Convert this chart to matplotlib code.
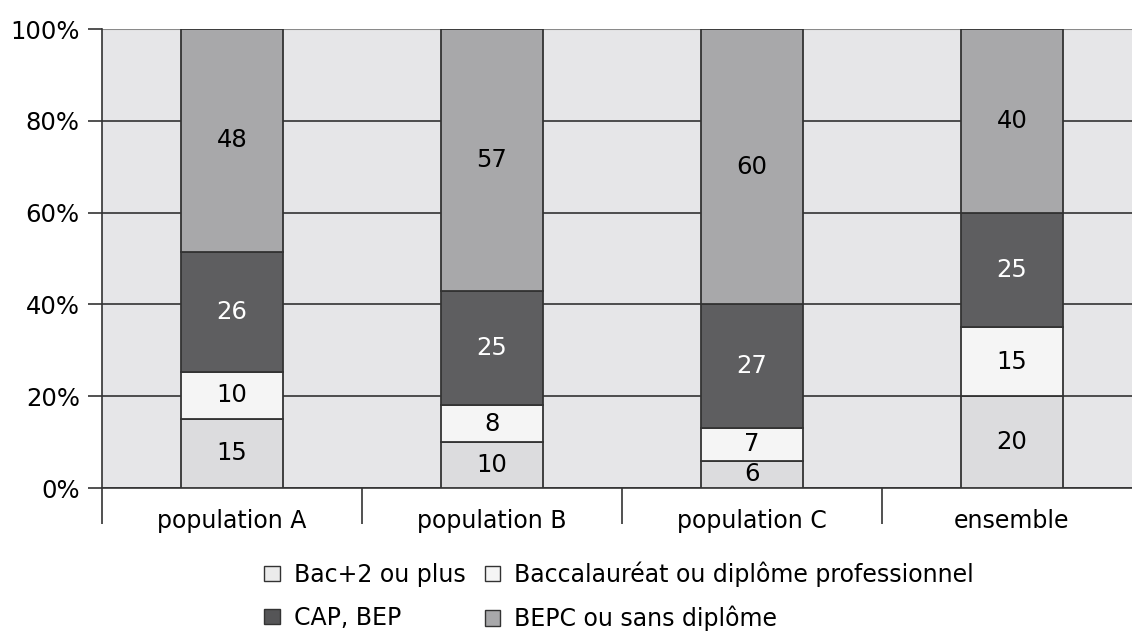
import numpy as np
import matplotlib.pyplot as plt
from matplotlib.patches import Patch

plt.rcParams['font.family'] = ['DejaVu Sans']

# Répartition par diplôme (en %)
categories = ['population A', 'population B', 'population C', 'ensemble']
series = ['Bac+2 ou plus', 'Baccalauréat ou diplôme professionnel',
          'CAP, BEP', 'BEPC ou sans diplôme']
bac2 = [15, 10, 6, 20]
bac = [10, 8, 7, 15]
cap_bep = [26, 25, 27, 25]
bepc = [48, 57, 60, 40]

couleurs = ['#dcdcde', '#f5f5f5', '#5e5e60', '#a8a8aa']
couleurs_texte = ['black', 'black', 'white', 'black']
couleurs_legende = ['#ebebeb', '#f5f5f5', '#555557', '#a8a8aa']

valeurs = np.array([bac2, bac, cap_bep, bepc], dtype=float)
totaux = valeurs.sum(axis=0)
parts = valeurs / totaux * 100  # empilement ramené à 100 %

fig = plt.figure(figsize=(11.32, 6.33), dpi=100)
ax = fig.add_axes([0.0901, 0.229, 0.9187, 0.725])
ax.set_facecolor('#e6e6e8')

x = np.arange(len(categories))
largeur = 0.39
bas = np.zeros(len(categories))
for i in range(len(series)):
    ax.bar(x, parts[i], largeur, bottom=bas, color=couleurs[i],
           edgecolor='#333333', linewidth=1.3, zorder=3)
    for j in range(len(categories)):
        ax.text(x[j], bas[j] + parts[i][j] / 2, f'{int(valeurs[i][j])}',
                ha='center', va='center', fontsize=17.5,
                color=couleurs_texte[i], zorder=4)
    bas += parts[i]

ax.set_xlim(-0.5, len(categories) - 0.5)
ax.set_ylim(0, 100)
ax.set_yticks(np.arange(0, 101, 20))
ax.set_yticklabels([f'{v}%' for v in range(0, 101, 20)], fontsize=17.5)
ax.yaxis.grid(True, color='#333333', linewidth=1.2, zorder=1)
ax.tick_params(axis='y', length=10, width=1.2, color='#333333', pad=6)

ax.set_xticks(x)
ax.set_xticklabels(categories, fontsize=17)
ax.set_xticks(np.arange(-0.5, len(categories) - 0.5, 1), minor=True)
ax.tick_params(axis='x', which='major', length=0, pad=15)
ax.tick_params(axis='x', which='minor', length=26, width=1.2, color='#333333')

for side in ['top', 'right']:
    ax.spines[side].set_visible(False)
ax.spines['left'].set_color('#333333')
ax.spines['left'].set_linewidth(1.2)
ax.spines['bottom'].set_color('#333333')
ax.spines['bottom'].set_linewidth(1.2)
ax.axhline(100, color='#8a8a8a', linewidth=1.5, zorder=2)

# Légende sur deux lignes
ordre = [0, 2, 1, 3]
poignees = [Patch(facecolor=couleurs_legende[k], edgecolor='#333333', linewidth=1)
            for k in ordre]
fig.legend(poignees, [series[k] for k in ordre], ncol=2, frameon=False,
           loc='center', bbox_to_anchor=(0.547, 0.058), fontsize=17,
           handlelength=0.65, handleheight=0.65, handletextpad=0.6,
           columnspacing=0.8, labelspacing=0.8)

fig.savefig('out.png', dpi=100)
